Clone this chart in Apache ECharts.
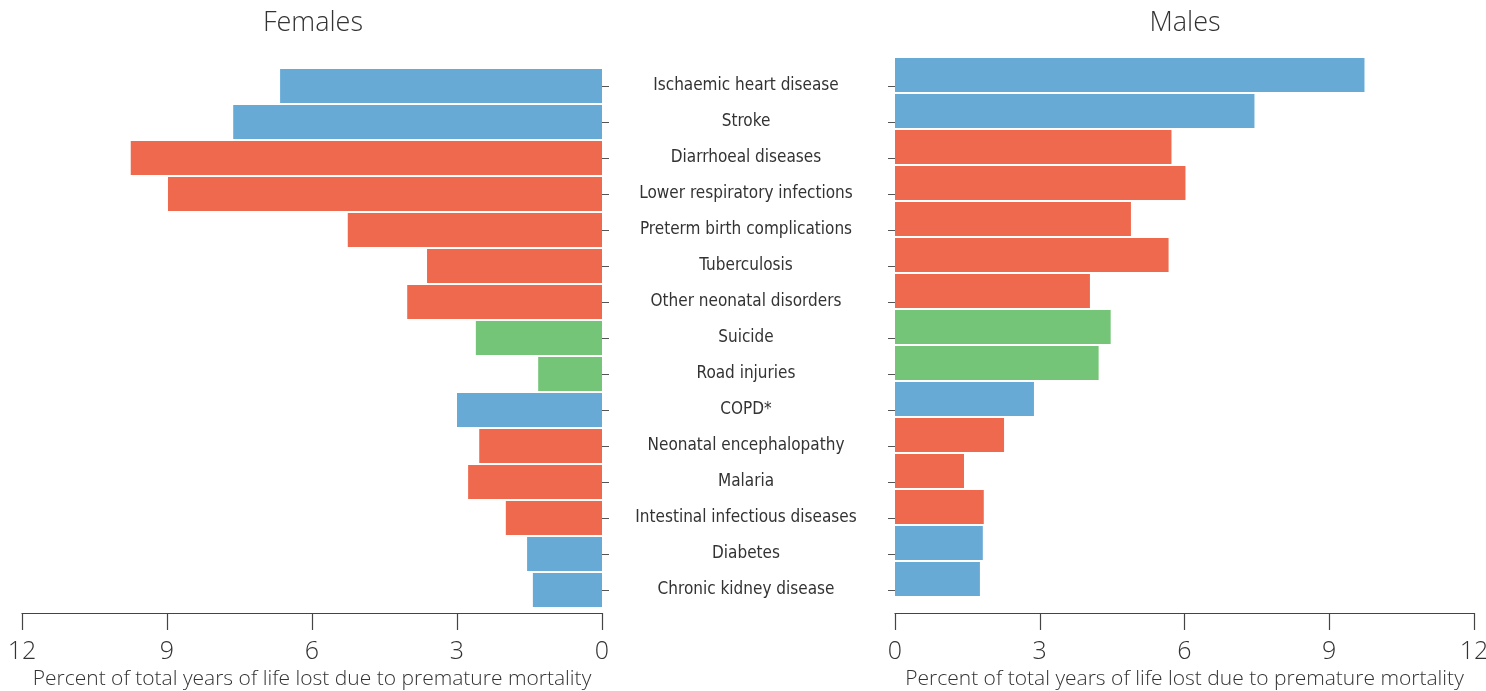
<!DOCTYPE html>
<html><head><meta charset="utf-8">
<script src="https://cdn.jsdelivr.net/npm/echarts@6/dist/echarts.min.js"></script>
<style>html,body{margin:0;padding:0;background:#fff}#c{width:1486px;height:691px}</style>
</head><body><div id="c"></div>
<script>
const categories = ["Ischaemic heart disease","Stroke","Diarrhoeal diseases","Lower respiratory infections","Preterm birth complications","Tuberculosis","Other neonatal disorders","Suicide","Road injuries","COPD*","Neonatal encephalopathy","Malaria","Intestinal infectious diseases","Diabetes","Chronic kidney disease"];
const groups = ["ncd","ncd","cmn","cmn","cmn","cmn","cmn","inj","inj","ncd","cmn","cmn","cmn","ncd","ncd"];
const females = [6.66,7.63,9.75,8.98,5.26,3.62,4.03,2.61,1.32,3.0,2.54,2.77,1.99,1.55,1.43];
const males = [9.73,7.45,5.73,6.02,4.89,5.67,4.04,4.47,4.22,2.88,2.26,1.43,1.84,1.82,1.76];
const xTicks = [0,3,6,9,12];
const groupColors = {ncd:"#67aad6", cmn:"#ee694e", inj:"#74c577"};

const txt = "#333";
const condensed = "'Liberation Sans Narrow','DejaVu Sans Condensed',sans-serif";
const light = "'Open Sans', Lato, sans-serif";
const mk = arr => arr.map((v,i)=>({value:v,itemStyle:{color:groupColors[groups[i]]}}));

const xCommon = (extra) => Object.assign({
  type:'value', min:xTicks[0], max:xTicks[xTicks.length-1], interval:3,
  axisLine:{show:true,lineStyle:{color:'#444',width:1.2}},
  axisTick:{show:true,length:17,lineStyle:{color:'#444',width:1.2}},
  axisLabel:{color:txt,fontSize:25,fontFamily:light,fontWeight:300,margin:26},
  splitLine:{show:false},
  name:'Percent of total years of life lost due to premature mortality',
  nameLocation:'middle', nameGap:55,
  nameTextStyle:{color:txt,fontSize:21,fontFamily:light,fontWeight:300}
}, extra);

const gridBase = {outerBoundsMode:'none', containLabel:false};
const chart = echarts.init(document.getElementById('c'));
chart.setOption({
  animation:false,
  title:[
    {text:'Females',left:308,top:5,textAlign:'center',textStyle:{color:txt,fontSize:27,fontWeight:300,fontFamily:light}},
    {text:'Males',left:1180,top:5,textAlign:'center',textStyle:{color:txt,fontSize:27,fontWeight:300,fontFamily:light}}
  ],
  grid:[
    Object.assign({left:22,width:580,top:68,height:540},gridBase),
    Object.assign({left:895,width:579,top:57,height:540},gridBase),
    Object.assign({left:895,width:579,top:68,height:540},gridBase)
  ],
  xAxis:[
    xCommon({gridIndex:0,inverse:true,offset:5}),
    xCommon({gridIndex:1,offset:16}),
    {type:'value',gridIndex:2,min:0,max:12,show:false}
  ],
  yAxis:[
    {type:'category',gridIndex:0,data:categories,inverse:true,position:'right',
     axisLine:{show:false},axisTick:{show:true,length:7,alignWithLabel:true,lineStyle:{color:'#555'}},
     axisLabel:{color:txt,fontSize:17,fontFamily:condensed,align:'center',margin:144,interval:0,padding:[4,0,0,0]}},
    {type:'category',gridIndex:1,data:categories,inverse:true,show:false},
    {type:'category',gridIndex:2,data:categories,inverse:true,position:'left',
     axisLine:{show:false},axisTick:{show:true,length:7,alignWithLabel:true,lineStyle:{color:'#555'}},
     axisLabel:{show:false}}
  ],
  series:[
    {type:'bar',xAxisIndex:0,yAxisIndex:0,data:mk(females),barCategoryGap:'5%'},
    {type:'bar',xAxisIndex:1,yAxisIndex:1,data:mk(males),barCategoryGap:'5%'}
  ]
});
</script></body></html>
